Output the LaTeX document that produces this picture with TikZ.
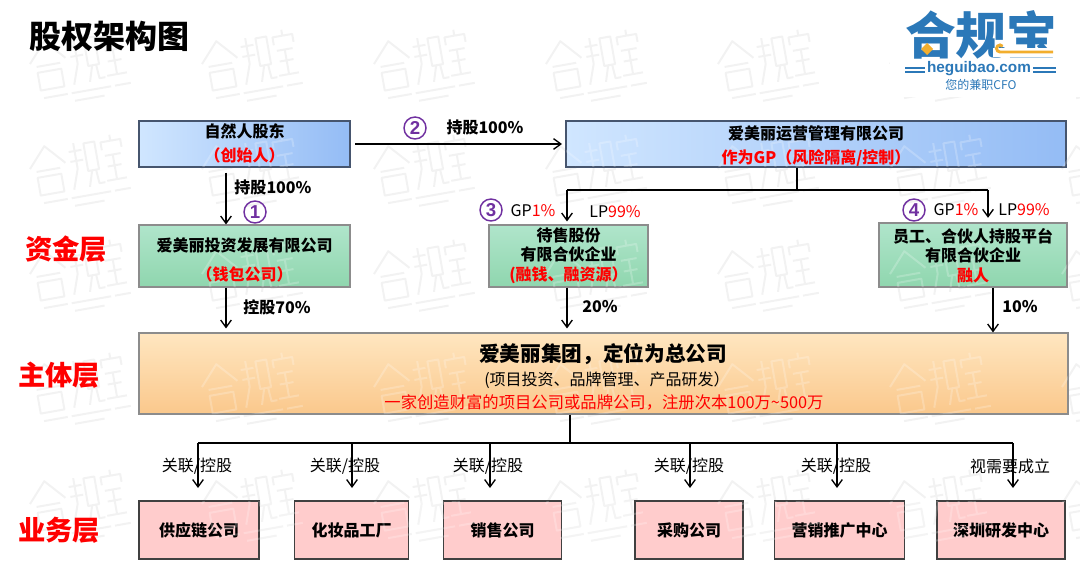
\documentclass[tikz,border=0pt]{standalone}
\usepackage{fontspec}
\setmainfont{Noto Sans CJK SC}
\newfontfamily\latinbold{Liberation Sans}[BoldFont={Liberation Sans Bold}]
\usetikzlibrary{arrows.meta,calc}
\definecolor{redtxt}{HTML}{FF0000}
\definecolor{purp}{HTML}{7030A0}
\definecolor{logoblue}{HTML}{2B78B8}
\definecolor{logoorange}{HTML}{F2AE2E}
\definecolor{wm}{HTML}{F2F2F2}
\tikzset{
  bluebox/.style={draw={rgb,255:red,70;green,85;blue,110},line width=.9pt,left color={rgb,255:red,208;green,230;blue,255},right color={rgb,255:red,148;green,188;blue,245},inner sep=0pt},
  greenbox/.style={draw=black!45,line width=.8pt,top color={rgb,255:red,176;green,229;blue,203},bottom color={rgb,255:red,143;green,214;blue,174},inner sep=0pt},
  orangebox/.style={draw=black!45,line width=.8pt,top color={rgb,255:red,255;green,230;blue,192},bottom color={rgb,255:red,250;green,200;blue,140},inner sep=0pt},
  pinkbox/.style={draw=black!75,line width=.9pt,fill={rgb,255:red,255;green,204;blue,204},inner sep=0pt,align=center,font=\fontsize{12}{14}\selectfont\bfseries},
  boxlabel/.style={inner sep=0pt,align=center,font=\fontsize{12}{#1}\selectfont\bfseries},
  lbl/.style={font=\fontsize{12}{14}\selectfont\bfseries,inner sep=0pt},
  plain/.style={font=\fontsize{12}{14}\selectfont,inner sep=0pt},
  layer/.style={font=\fontsize{20.5}{24}\selectfont\bfseries,text=redtxt,inner sep=0pt},
  num/.style={circle,draw=purp,line width=1.1pt,text=purp,minimum size=16.5pt,inner sep=0pt,font=\latinbold\fontsize{14}{14}\selectfont\bfseries},
  conn/.style={line width=1pt,draw=black},
  arr/.style={conn,-{Straight Barb[length=5.5pt,width=8pt,line width=1pt]}},
  wmshape/.pic={
    \draw[line width=1.5pt,line join=round,pic actions]
      (-46,-4) -- (-28,-24) -- (-10,-4)
      (-40,0) -- (-16,0) (-40,6) rectangle (-16,24)
      (-5,-14) -- (8,-14) (1,-22) -- (1,4) (-5,-4) -- (8,-4) (1,4) -- (-6,24)
      (11,-20) rectangle (22,8) (15,8) -- (10,24) (19,8) -- (20,22) -- (26,22)
      (38,-24) -- (38,-18) (28,-10) -- (28,-18) -- (48,-18) -- (48,-10)
      (30,-4) -- (46,-4) (38,-4) -- (38,20) (31,7) -- (45,7) (28,21) -- (48,21)
      (-38,32) -- (-14,32) (-10,32) -- (30,32) (34,32) -- (50,32)
      (-8,40) -- (22,40);
  }
}
\begin{document}
\begin{tikzpicture}[x=.75pt,y=-.75pt]
\useasboundingbox (0,0) rectangle (1080,577);
% watermarks on the page
\foreach \yy in {-45,60,165,270,383,500,610}{
  \foreach \xx in {76,248,420,592,764,936,1108}{
    \pic[draw=wm,rotate=10] at (\xx,\yy) {wmshape};
  }
}
% title
\node[inner sep=0pt,font=\fontsize{24}{28}\selectfont\bfseries] (title) at (109,36) {股权架构图};
% logo
\fill[white] (890,0) rectangle (1080,97);
\node[inner sep=0pt,text=logoblue,font=\fontsize{38}{40}\selectfont\bfseries] (logotext) at (981,35) {合规宝};
\node[inner sep=0pt,text=logoblue,font=\latinbold\fontsize{11.5}{12}\selectfont\bfseries] (logourl) at (979,69) {heguibao.com};
\node[inner sep=0pt,text=logoblue,font=\fontsize{9}{10}\selectfont] (logosub) at (981,85) {您的兼职CFO};
\coordinate (la) at (905,68); \coordinate (lb) at (925,68);
\coordinate (lc) at (1033,68); \coordinate (ld) at (1056,68);
\draw[logoblue,line width=1pt] (la) -- (lb) (lc) -- (ld);
\draw[logoblue,line width=1pt] ($(la)+(0,4)$) -- ($(lb)+(0,4)$) ($(lc)+(0,4)$) -- ($(ld)+(0,4)$);
\fill[logoorange] (927,43) -- (933,49) -- (927,55) -- (921,49) -- cycle;
\fill[white] (993,48) rectangle (1056,57);
\draw[logoorange,line width=2.2pt] (1053,52) -- (1000,52) arc[start angle=90,end angle=320,radius=3.5];
% boxes
\node[bluebox,minimum width=158.25pt,minimum height=34.5pt] (person) at (244.5,144) {};
\node[bluebox,minimum width=375pt,minimum height=34.5pt] (ops) at (816,144) {};
\node[greenbox,minimum width=158.25pt,minimum height=46.5pt] (wallet) at (244.5,256) {};
\node[greenbox,minimum width=119.25pt,minimum height=46.5pt] (sale) at (568.5,256) {};
\node[greenbox,minimum width=141pt,minimum height=48pt] (staff) at (973,255) {};
\node[orangebox,minimum width=696.75pt,minimum height=60.75pt] (group) at (603.5,373.5) {};
\node[pinkbox,minimum width=90pt,minimum height=43.5pt] (b1) at (199,530) {供应链公司};
\node[pinkbox,minimum width=85pt,minimum height=43.5pt] (b2) at (351.5,530) {化妆品工厂};
\node[pinkbox,minimum width=89pt,minimum height=43.5pt] (b3) at (502.5,530) {销售公司};
\node[pinkbox,minimum width=81pt,minimum height=43.5pt] (b4) at (689,530) {采购公司};
\node[pinkbox,minimum width=97pt,minimum height=43.5pt] (b5) at (839.5,530) {营销推广中心};
\node[pinkbox,minimum width=96pt,minimum height=43.5pt] (b6) at (1001,530) {深圳研发中心};
% watermark over the boxes
\begin{scope}
\clip (139,121) rectangle (350,167) (566,121) rectangle (1067,167)
      (139,225) rectangle (350,287) (489,225) rectangle (648,287) (879,223) rectangle (1067,287)
      (139,333) rectangle (1068,414)
      (139,501) rectangle (1065,559);
\foreach \yy in {60,165,270,383,500,610}{
  \foreach \xx in {76,248,420,592,764,936,1108}{
    \pic[draw=white,draw opacity=.22,rotate=10] at (\xx,\yy) {wmshape};
  }
}
\end{scope}
% box texts
\node[boxlabel=17.5pt] (tperson) at (244.5,143.5) {自然人股东\\\textcolor{redtxt}{（创始人）}};
\node[boxlabel=18pt] (tops) at (816,146) {爱美丽运营管理有限公司\\\textcolor{redtxt}{作为GP（风险隔离/控制）}};
\node[boxlabel=21.75pt] (twallet) at (244.5,260) {爱美丽投资发展有限公司\\\textcolor{redtxt}{（钱包公司）}};
\node[boxlabel=14.6pt] (tsale) at (568.5,255.5) {待售股份\\有限合伙企业\\\textcolor{redtxt}{(融钱、融资源）}};
\node[boxlabel=14.6pt] (tstaff) at (973,255.5) {员工、合伙人持股平台\\有限合伙企业\\\textcolor{redtxt}{融人}};
\node[inner sep=0pt,font=\fontsize{15.5}{17}\selectfont\bfseries] (g1) at (603,354) {爱美丽集团，定位为总公司};
\node[inner sep=0pt,font=\fontsize{12}{14}\selectfont] (g2) at (607,380) {(项目投资、品牌管理、产品研发）};
\node[inner sep=0pt,text=redtxt,font=\fontsize{12.25}{14}\selectfont] (g3) at (604,402) {一家创造财富的项目公司或品牌公司，注册次本100万\textasciitilde 500万};
% layer labels
\node[layer] (l1) at (66,249) {资金层};
\node[layer] (l2) at (59,375) {主体层};
\node[layer] (l3) at (59,530) {业务层};
% free coordinates
\coordinate (xa) at (226,0);
\coordinate (xb) at (567,0);
\coordinate (xc) at (993,0);
\coordinate (s1) at (355,144);
\coordinate (s2) at (562,144);
\coordinate (opsdown) at (797,190);
\coordinate (jl) at (567,190);
\coordinate (jr) at (988,190);
\coordinate (grpdown) at (570,443);
\coordinate (h1) at (198,443); \coordinate (a1) at (198,488);
\coordinate (h2) at (352,443); \coordinate (a2) at (352,488);
\coordinate (h3) at (490,443); \coordinate (a3) at (490,488);
\coordinate (h4) at (690,443); \coordinate (a4) at (690,488);
\coordinate (h5) at (837,443); \coordinate (a5) at (837,488);
\coordinate (h6) at (1013,443); \coordinate (a6) at (1013,488);
% connectors
\draw[arr,shorten <=3.75pt] (person.south -| xa) -- (wallet.north -| xa);
\draw[arr] (s1) -- (s2);
\draw[arr,shorten >=3pt] (wallet.south -| xa) -- (group.north -| xa);
\draw[conn] (ops.south -| opsdown) -- (opsdown);
\draw[conn] (jl) -- (jr);
\draw[arr,shorten >=2.25pt] (jl) -- (sale.north -| jl);
\draw[arr,shorten >=3.5pt] (jr) -- (staff.north -| jr);
\draw[arr,shorten >=3pt] (sale.south -| xb) -- (group.north -| xb);
\draw[arr] (staff.south -| xc) -- (group.north -| xc);
\draw[conn] (group.south -| grpdown) -- (grpdown);
\draw[conn] (h1) -- (h6);
\foreach \i in {1,...,6}{\draw[arr] (h\i) -- (a\i);}
% labels
\node[lbl] (t1) at (273,187) {持股100\%};
\node[lbl] (t2) at (485,127) {持股100\%};
\node[lbl] (t3) at (277,307) {控股70\%};
\node[lbl] (t4) at (600,307) {20\%};
\node[lbl] (t5) at (1020,307) {10\%};
\node[num] (n1) at (255,212) {1};
\node[num] (n2) at (415,128) {2};
\node[num] (n3) at (491,210) {3};
\node[num] (n4) at (914,210) {4};
\node[plain] (g3l) at (533,211) {GP\textcolor{redtxt}{1\%}};
\node[plain] (g3r) at (615,212) {LP\textcolor{redtxt}{99\%}};
\node[plain] (g4l) at (956,210) {GP\textcolor{redtxt}{1\%}};
\node[plain] (g4r) at (1024,210) {LP\textcolor{redtxt}{99\%}};
\node[plain] (c1) at (197,466) {关联/控股};
\node[plain] (c2) at (345,466) {关联/控股};
\node[plain] (c3) at (488,466) {关联/控股};
\node[plain] (c4) at (689,466) {关联/控股};
\node[plain] (c5) at (836,466) {关联/控股};
\node[plain] (c6) at (1010,466) {视需要成立};
\end{tikzpicture}
\end{document}
